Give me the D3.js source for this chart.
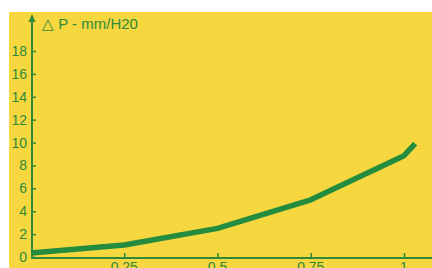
<!DOCTYPE html>
<meta charset="utf-8">
<style>
body { margin: 0; background: #fff; }
text { font-family: "Liberation Sans", Arial, sans-serif; fill: #2e8a38; }
</style>
<body>
<script src="https://d3js.org/d3.v7.min.js"></script>
<script>

// flow (fraction) vs pressure drop
var flow = [0, 0.25, 0.5, 0.75, 1, 1.03],
	dp = [0.35, 1.05, 2.5, 5.0, 8.85, 9.9],
	xTicks = [0.25, 0.5, 0.75, 1],
	yTicks = [0, 2, 4, 6, 8, 10, 12, 14, 16, 18],
	title = "\u25B3 P - mm/H20";

var width = 432,
	height = 268,
	green = "#2e8a38",
	svg = d3.select("body").append("svg")
		.attr("width", width)
		.attr("height", height);

// yellow paper
svg.append("rect")
	.attr("x", 9).attr("y", 12)
	.attr("width", width - 9).attr("height", height - 12)
	.attr("fill", "#f6d740");

var x = d3.scaleLinear().domain([0, 1]).range([31, 404]),
	y = d3.scaleLinear().domain([0, 18]).range([257, 51]);

// y axis
var yAxis = svg.append("g").attr("transform", "translate(32,0)")
	.call(d3.axisRight(y).tickValues(yTicks).tickSize(4).tickFormat(""));
yAxis.select(".domain").remove();
yAxis.selectAll("line").attr("stroke", green).attr("stroke-width", 1.5);

svg.append("line")
	.attr("x1", 32).attr("x2", 32)
	.attr("y1", 258).attr("y2", 20)
	.attr("stroke", green).attr("stroke-width", 2);
svg.append("path")
	.attr("d", "M28.5,22 L32,14 L35.5,22 Z")
	.attr("fill", green);

svg.selectAll(".ylab").data(yTicks).enter().append("text")
	.attr("class", "ylab")
	.attr("x", 27)
	.attr("y", function(d) { return y(d); })
	.attr("dy", "0.36em")
	.attr("text-anchor", "end")
	.style("font-size", "14px")
	.text(function(d) { return d; });

// x axis
var xAxis = svg.append("g").attr("transform", "translate(0,258)")
	.call(d3.axisTop(x).tickValues(xTicks).tickSize(5).tickFormat(""));
xAxis.select(".domain").remove();
xAxis.selectAll("line").attr("stroke", green).attr("stroke-width", 1.5);

svg.append("line")
	.attr("x1", 31).attr("x2", width)
	.attr("y1", 258).attr("y2", 258)
	.attr("stroke", green).attr("stroke-width", 2);

svg.selectAll(".xlab").data(xTicks).enter().append("text")
	.attr("class", "xlab")
	.attr("x", function(d) { return x(d); })
	.attr("y", 272)
	.attr("text-anchor", "middle")
	.style("font-size", "14px")
	.text(function(d) { return d; });

svg.append("text")
	.attr("x", 42)
	.attr("y", 29)
	.style("font-size", "15px")
	.text(title);

// curve
var line = d3.line()
	.x(function(d, i) { return x(flow[i]); })
	.y(function(d) { return y(d); });

svg.append("path")
	.datum(dp)
	.attr("d", line)
	.attr("fill", "none")
	.attr("stroke", "#238c3e")
	.attr("stroke-width", 5.5)
	.attr("stroke-linejoin", "round");

</script>
</body>
</html>
